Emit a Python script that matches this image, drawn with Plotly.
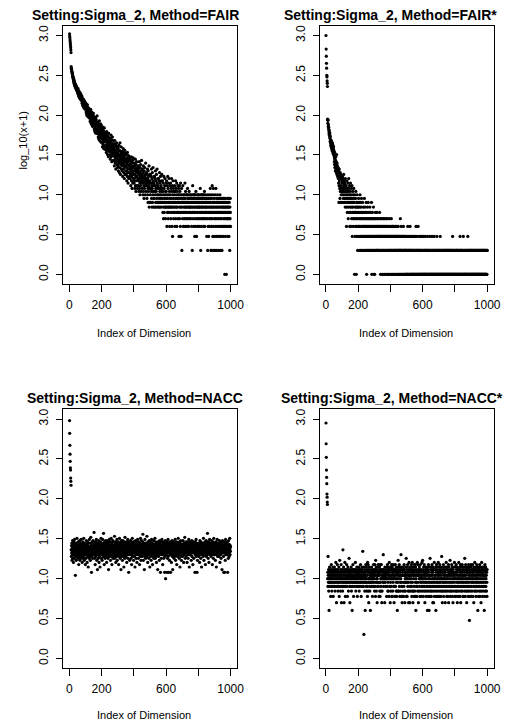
import numpy as np
import plotly.graph_objects as go

# ---------------- data: counts x per dimension index (y = log10(x+1)) -------------
fair_counts = [
 1050, 985, 940, 880, 830, 790, 745, 700, 655, 610, 405, 388, 372, 379, 355, 349, 337, 327, 333, 312, 306, 297, 301, 287, 280,
 271, 262, 280, 249, 255, 266, 241, 236, 250, 228, 233, 245, 219, 226, 238, 214, 221, 230, 207, 216, 224, 203, 211, 198, 206,
 205, 188, 197, 214, 183, 192, 176, 201, 170, 185, 179, 164, 193, 172, 168, 181, 158, 175, 187, 162, 170, 155, 178, 160, 166,
 162, 149, 171, 140, 155, 146, 133, 160, 139, 151, 128, 144, 137, 156, 124, 141, 132, 149, 120, 138, 127, 145, 118, 133, 126,
 131, 118, 140, 109, 124, 103, 127, 115, 98, 121, 112, 134, 101, 117, 95, 110, 123, 104, 97, 114, 108, 92, 119, 101, 106,
 106, 94, 112, 83, 99, 88, 117, 80, 95, 102, 77, 91, 86, 108, 74, 93, 84, 99, 71, 89, 96, 79, 85, 104, 76,
 88, 73, 95, 66, 81, 77, 62, 90, 70, 84, 59, 76, 92, 67, 79, 64, 86, 71, 58, 80, 74, 97, 63, 69, 78,
 71, 58, 80, 52, 66, 75, 49, 63, 69, 55, 84, 61, 47, 72, 57, 65, 51, 77, 60, 45, 68, 54, 74, 59, 63,
 58, 44, 66, 49, 39, 61, 53, 70, 42, 55, 47, 63, 37, 51, 57, 45, 68, 40, 54, 48, 60, 36, 52, 46, 56,
 50, 38, 57, 33, 46, 42, 61, 35, 48, 40, 54, 31, 44, 52, 37, 47, 29, 43, 58, 39, 45, 34, 51, 41, 36,
 44, 31, 50, 27, 39, 46, 34, 55, 29, 41, 36, 48, 25, 38, 43, 32, 52, 30, 40, 35, 47, 26, 37, 42, 33,
 37, 26, 43, 22, 34, 29, 47, 31, 24, 39, 28, 35, 20, 41, 30, 33, 25, 44, 27, 36, 23, 32, 38, 21, 30,
 33, 22, 38, 19, 29, 26, 41, 24, 31, 18, 35, 27, 21, 44, 25, 30, 17, 34, 23, 28, 39, 20, 32, 26, 24,
 29, 19, 34, 22, 27, 16, 31, 24, 37, 20, 26, 18, 33, 23, 28, 15, 30, 21, 35, 25, 17, 27, 22, 32, 19,
 26, 17, 31, 19, 24, 14, 28, 21, 16, 33, 23, 18, 27, 13, 25, 20, 30, 15, 22, 26, 18, 29, 16, 23, 20,
 23, 15, 27, 17, 21, 12, 25, 19, 29, 14, 22, 16, 20, 11, 24, 18, 26, 13, 21, 17, 28, 15, 19, 22, 14,
 21, 13, 24, 15, 19, 11, 22, 17, 27, 12, 20, 16, 10, 23, 18, 14, 25, 12, 19, 16, 21, 11, 18, 15, 20,
 19, 12, 22, 14, 17, 10, 20, 15, 25, 11, 18, 13, 9, 21, 16, 12, 23, 14, 17, 10, 19, 15, 26, 13, 16,
 17, 11, 20, 13, 15, 9, 18, 14, 22, 10, 16, 12, 8, 19, 15, 11, 21, 13, 16, 9, 17, 14, 24, 12, 15,
 15, 10, 18, 12, 14, 8, 17, 13, 20, 9, 15, 11, 7, 19, 13, 10, 16, 12, 22, 6, 14, 11, 17, 7, 13,
 14, 9, 17, 11, 7, 13, 16, 10, 20, 8, 12, 6, 15, 11, 18, 7, 13, 9, 21, 10, 14, 6, 12, 8, 16,
 13, 8, 16, 10, 6, 12, 15, 9, 19, 7, 11, 6, 14, 10, 17, 7, 12, 8, 20, 9, 13, 6, 11, 7, 15,
 12, 7, 15, 9, 6, 11, 14, 8, 18, 7, 10, 6, 13, 9, 16, 7, 11, 8, 12, 6, 14, 9, 17, 7, 10,
 11, 7, 14, 8, 5, 10, 13, 6, 4, 9, 16, 7, 11, 5, 8, 12, 6, 15, 7, 9, 4, 10, 6, 13, 8,
 10, 6, 14, 7, 3, 9, 12, 5, 8, 16, 6, 11, 4, 7, 13, 6, 9, 5, 15, 7, 10, 3, 8, 12, 6,
 9, 6, 13, 7, 4, 11, 5, 8, 15, 6, 10, 3, 7, 12, 2, 9, 6, 14, 5, 8, 11, 4, 7, 10, 6,
 9, 5, 12, 7, 3, 10, 6, 8, 14, 4, 7, 11, 5, 9, 6, 13, 3, 8, 6, 10, 5, 7, 12, 4, 9,
 8, 5, 11, 7, 2, 9, 6, 12, 4, 7, 10, 5, 8, 3, 13, 6, 9, 2, 7, 5, 11, 6, 1, 8, 7,
 9, 4, 7, 12, 5, 8, 3, 8, 6, 7, 9, 5, 9, 4, 7, 6, 13, 3, 8, 5, 10, 6, 7, 4, 9,
 7, 5, 9, 6, 3, 9, 7, 11, 4, 8, 6, 8, 5, 7, 3, 9, 6, 10, 4, 8, 5, 7, 8, 6, 8,
 6, 9, 4, 9, 7, 5, 8, 3, 8, 6, 7, 1, 9, 5, 12, 6, 4, 8, 7, 9, 5, 3, 9, 6, 7,
 8, 5, 2, 9, 6, 4, 9, 7, 3, 10, 5, 8, 6, 2, 7, 8, 4, 6, 9, 5, 3, 8, 7, 9, 6,
 7, 4, 9, 6, 3, 8, 5, 8, 6, 7, 4, 11, 5, 9, 1, 6, 8, 3, 7, 9, 5, 6, 4, 9, 7,
 6, 8, 4, 9, 5, 7, 3, 9, 6, 5, 8, 4, 10, 7, 6, 3, 9, 5, 7, 8, 4, 6, 8, 5, 7,
 6, 2, 8, 5, 9, 4, 7, 1, 6, 8, 3, 8, 5, 2, 7, 6, 9, 4, 5, 7, 3, 8, 6, 11, 5,
 7, 4, 1, 9, 5, 6, 3, 8, 1, 6, 12, 4, 7, 5, 2, 9, 6, 11, 3, 7, 5, 1, 8, 6, 4,
 2, 7, 5, 1, 9, 4, 6, 3, 11, 5, 7, 2, 8, 6, 1, 4, 7, 5, 9, 3, 6, 2, 8, 5, 7,
 4, 1, 6, 8, 3, 5, 7, 2, 9, 4, 6, 1, 5, 8, 3, 7, 2, 6, 4, 8, 5, 1, 7, 3, 6,
 5, 8, 3, 6, 2, 7, 4, 5, 8, 6, 3, 7, 5, 0, 4, 6, 8, 2, 5, 7, 3, 6, 4, 0, 5,
 7, 3, 6, 4, 8, 5, 2, 6, 4, 7, 3, 5, 8, 6, 2, 4, 7, 5, 3, 1, 6, 4, 8, 5, 3,
]

fair_star_counts = [
 999, 675, 549, 446, 388, 315, 301, 268, 250, 228, 88, 85, 78, 86, 71, 74, 66, 69, 62, 58, 64, 55, 60, 52, 57,
 50, 46, 53, 44, 48, 41, 45, 39, 47, 42, 37, 43, 40, 35, 38, 44, 34, 36, 41, 32, 37, 33, 39, 31, 35,
 30, 25, 28, 23, 33, 21, 27, 24, 19, 26, 22, 29, 20, 25, 18, 23, 31, 21, 17, 24, 19, 22, 16, 20, 18,
 21, 15, 18, 13, 19, 7, 12, 20, 14, 17, 11, 16, 8, 18, 10, 15, 12, 17, 7, 9, 16, 11, 13, 15, 10,
 14, 9, 16, 11, 7, 13, 10, 15, 8, 12, 17, 9, 11, 7, 14, 10, 13, 8, 12, 6, 15, 9, 11, 7, 10,
 12, 8, 3, 10, 6, 14, 9, 5, 11, 7, 13, 8, 10, 4, 9, 6, 15, 7, 11, 5, 8, 12, 3, 9, 7,
 10, 6, 13, 5, 8, 3, 9, 7, 11, 4, 6, 12, 8, 2, 7, 5, 10, 6, 3, 9, 4, 7, 11, 5, 8,
 7, 4, 0, 9, 5, 2, 6, 3, 8, 5, 10, 4, 6, 0, 7, 3, 5, 2, 9, 4, 6, 1, 7, 3, 5,
 6, 3, 8, 2, 5, 4, 7, 1, 3, 6, 2, 9, 4, 5, 1, 7, 3, 2, 6, 4, 8, 1, 5, 3, 2,
 4, 2, 7, 1, 5, 3, 2, 6, 4, 1, 3, 5, 2, 8, 1, 4, 3, 6, 2, 5, 1, 3, 4, 2, 7,
 3, 1, 0, 5, 2, 4, 1, 6, 3, 2, 1, 4, 7, 2, 3, 1, 5, 2, 4, 1, 3, 2, 6, 1, 4,
 2, 5, 1, 3, 4, 2, 1, 7, 3, 0, 2, 4, 1, 5, 2, 3, 1, 4, 2, 6, 1, 3, 0, 2, 4,
 1, 3, 0, 4, 2, 1, 5, 3, 2, 1, 4, 2, 1, 3, 1, 5, 2, 1, 3, 4, 2, 1, 1, 3, 2,
 4, 1, 2, 3, 2, 2, 1, 5, 3, 1, 2, 4, 1, 0, 3, 2, 1, 4, 2, 3, 1, 2, 0, 3, 1,
 2, 4, 1, 3, 0, 2, 1, 4, 2, 1, 3, 0, 2, 1, 4, 2, 3, 1, 0, 2, 1, 3, 2, 4, 1,
 2, 1, 3, 0, 2, 1, 4, 2, 0, 1, 3, 2, 1, 0, 2, 3, 1, 2, 4, 1, 0, 2, 1, 3, 2,
 1, 2, 0, 1, 3, 4, 1, 2, 0, 1, 2, 1, 3, 0, 2, 3, 1, 2, 1, 0, 2, 3, 1, 2, 1,
 0, 2, 1, 3, 1, 2, 0, 1, 2, 3, 1, 0, 2, 1, 2, 3, 1, 0, 2, 1, 1, 2, 0, 3, 1,
 2, 1, 0, 1, 2, 1, 0, 2, 1, 1, 0, 4, 1, 2, 0, 1, 3, 2, 1, 0, 1, 2, 1, 0, 2,
 1, 0, 2, 1, 0, 3, 1, 2, 0, 1, 1, 0, 2, 1, 0, 1, 2, 0, 1, 1, 0, 2, 1, 0, 1,
 0, 1, 0, 2, 1, 0, 0, 3, 1, 0, 1, 2, 0, 1, 0, 1, 0, 2, 1, 0, 1, 3, 0, 1, 0,
 1, 0, 2, 0, 1, 1, 0, 0, 2, 1, 0, 1, 0, 0, 1, 2, 0, 1, 0, 1, 0, 0, 2, 1, 0,
 1, 0, 0, 1, 0, 2, 1, 0, 3, 1, 0, 1, 0, 0, 2, 1, 0, 1, 0, 0, 1, 3, 0, 1, 0,
 0, 1, 0, 2, 1, 0, 0, 1, 0, 1, 0, 0, 2, 1, 0, 1, 0, 0, 1, 0, 2, 0, 1, 0, 0,
 1, 0, 0, 1, 0, 2, 0, 1, 0, 0, 1, 0, 1, 0, 0, 2, 1, 0, 0, 1, 0, 1, 0, 0, 1,
 0, 0, 1, 0, 2, 1, 0, 0, 1, 0, 1, 0, 0, 1, 0, 0, 1, 0, 2, 0, 1, 0, 0, 1, 0,
 0, 1, 0, 0, 1, 0, 0, 2, 0, 1, 0, 0, 1, 0, 1, 0, 0, 1, 0, 0, 2, 1, 0, 0, 1,
 0, 0, 1, 0, 1, 0, 0, 1, 0, 0, 1, 0, 2, 0, 0, 1, 0, 1, 0, 0, 1, 0, 0, 1, 0,
 1, 0, 0, 1, 0, 0, 1, 0, 2, 0, 1, 0, 0, 1, 0, 0, 1, 0, 0, 1, 0, 1, 0, 0, 1,
 0, 0, 1, 0, 0, 1, 0, 1, 0, 1, 0, 0, 1, 0, 0, 1, 0, 0, 1, 0, 1, 0, 0, 1, 0,
 1, 0, 0, 1, 0, 0, 1, 0, 1, 0, 0, 1, 0, 0, 1, 0, 1, 0, 0, 1, 0, 0, 1, 0, 1,
 0, 0, 1, 0, 1, 0, 0, 1, 0, 0, 2, 0, 1, 0, 0, 1, 0, 0, 1, 0, 0, 1, 0, 1, 0,
 0, 1, 0, 0, 1, 0, 0, 1, 0, 1, 0, 1, 0, 0, 1, 0, 0, 1, 0, 1, 0, 0, 1, 0, 0,
 1, 0, 0, 1, 0, 0, 2, 1, 0, 0, 1, 0, 0, 1, 0, 1, 0, 0, 1, 0, 1, 0, 0, 1, 0,
 0, 2, 0, 1, 0, 0, 1, 0, 0, 0, 1, 0, 0, 1, 0, 0, 1, 0, 1, 0, 0, 1, 0, 0, 1,
 0, 0, 1, 0, 2, 0, 1, 0, 0, 1, 0, 0, 1, 0, 1, 0, 0, 1, 0, 0, 1, 0, 0, 1, 0,
 1, 0, 0, 1, 0, 0, 1, 0, 1, 0, 0, 1, 0, 0, 1, 0, 0, 1, 0, 1, 0, 0, 1, 0, 0,
 0, 1, 0, 0, 1, 0, 1, 0, 0, 1, 0, 0, 1, 0, 0, 1, 0, 1, 0, 0, 1, 0, 0, 1, 0,
 1, 0, 0, 1, 0, 0, 1, 0, 1, 0, 0, 1, 0, 0, 1, 0, 1, 0, 0, 1, 0, 0, 1, 0, 1,
 0, 0, 1, 0, 1, 0, 0, 1, 0, 0, 1, 0, 1, 0, 0, 1, 0, 0, 1, 0, 1, 0, 0, 1, 1,
]

nacc_counts = [
 954, 660, 467, 362, 294, 244, 228, 181, 165, 147, 22, 18, 25, 20, 27, 16, 23, 19, 21, 29, 17, 24, 20, 26, 15,
 22, 19, 28, 21, 17, 24, 30, 20, 18, 23, 26, 10, 21, 19, 25, 22, 16, 27, 20, 23, 18, 31, 21, 24, 19,
 20, 25, 17, 22, 28, 19, 23, 14, 26, 21, 18, 24, 20, 29, 16, 22, 25, 19, 27, 21, 17, 23, 30, 20, 24,
 18, 22, 26, 15, 21, 24, 19, 28, 23, 17, 20, 25, 22, 31, 18, 21, 16, 27, 24, 20, 19, 23, 26, 14, 22,
 25, 20, 17, 23, 29, 21, 19, 26, 22, 15, 24, 28, 20, 18, 22, 25, 13, 21, 27, 23, 19, 24, 17, 30, 21,
 23, 18, 27, 21, 16, 24, 20, 32, 22, 19, 25, 11, 21, 26, 18, 23, 28, 20, 17, 24, 22, 29, 19, 21, 25,
 20, 24, 37, 19, 22, 27, 17, 23, 25, 14, 21, 28, 20, 18, 26, 22, 30, 19, 23, 16, 25, 21, 27, 12, 22,
 19, 26, 23, 17, 21, 29, 24, 20, 15, 22, 27, 18, 25, 21, 13, 23, 20, 28, 19, 24, 31, 22, 17, 26, 21,
 24, 20, 16, 25, 22, 30, 19, 23, 27, 21, 18, 36, 24, 20, 26, 14, 22, 19, 28, 23, 17, 25, 21, 29, 20,
 22, 27, 18, 24, 21, 15, 26, 20, 23, 29, 19, 25, 22, 17, 28, 21, 24, 12, 20, 26, 23, 18, 30, 21, 25,
 19, 23, 28, 21, 16, 25, 22, 20, 31, 18, 24, 27, 21, 14, 23, 26, 19, 22, 29, 20, 17, 24, 21, 28, 23,
 20, 25, 18, 22, 33, 21, 17, 26, 23, 19, 24, 28, 15, 22, 20, 27, 24, 18, 21, 30, 23, 16, 25, 20, 22,
 26, 19, 23, 28, 21, 14, 25, 22, 18, 24, 31, 20, 27, 23, 17, 21, 26, 19, 24, 12, 22, 29, 20, 25, 18,
 23, 27, 20, 16, 24, 21, 29, 19, 25, 22, 18, 26, 13, 23, 28, 20, 24, 21, 17, 32, 22, 25, 19, 27, 21,
 18, 24, 22, 28, 20, 15, 25, 23, 19, 26, 21, 30, 17, 24, 22, 27, 20, 11, 23, 25, 19, 28, 21, 16, 24,
 22, 26, 19, 23, 29, 21, 17, 25, 20, 24, 14, 27, 22, 19, 31, 23, 18, 26, 21, 25, 20, 28, 16, 23, 21,
 25, 20, 27, 18, 22, 24, 13, 26, 21, 29, 19, 23, 25, 17, 22, 28, 20, 24, 15, 21, 26, 23, 30, 19, 22,
 20, 24, 17, 26, 22, 19, 28, 21, 25, 14, 23, 20, 27, 22, 18, 31, 24, 21, 16, 25, 19, 23, 29, 20, 26,
 23, 18, 25, 21, 28, 35, 20, 24, 16, 22, 27, 19, 23, 26, 12, 21, 25, 18, 30, 22, 20, 24, 17, 27, 21,
 24, 21, 19, 27, 22, 33, 18, 25, 20, 23, 15, 26, 21, 28, 24, 19, 22, 17, 25, 20, 29, 23, 21, 13, 26,
 20, 23, 28, 18, 25, 21, 16, 24, 22, 30, 19, 26, 23, 20, 27, 14, 22, 25, 18, 24, 21, 29, 20, 17, 23,
 26, 19, 22, 25, 20, 31, 23, 17, 24, 21, 28, 18, 22, 26, 15, 23, 20, 27, 24, 19, 21, 25, 12, 22, 28,
 21, 24, 18, 23, 27, 20, 25, 16, 22, 29, 19, 24, 21, 26, 11, 23, 20, 28, 22, 17, 25, 21, 24, 30, 19,
 23, 20, 26, 14, 22, 25, 19, 28, 21, 24, 17, 23, 20, 27, 22, 11, 25, 18, 21, 29, 24, 9, 20, 26, 22,
 19, 25, 22, 28, 11, 23, 20, 26, 17, 24, 21, 30, 18, 22, 25, 11, 23, 27, 20, 24, 16, 21, 28, 19, 23,
 26, 21, 11, 24, 19, 27, 22, 15, 25, 20, 23, 29, 18, 24, 21, 12, 26, 22, 19, 28, 23, 20, 25, 17, 22,
 24, 18, 27, 21, 23, 30, 20, 25, 16, 22, 26, 19, 24, 21, 28, 14, 23, 20, 25, 22, 18, 27, 21, 24, 31,
 20, 23, 26, 19, 22, 17, 25, 28, 21, 24, 13, 22, 27, 20, 23, 29, 18, 25, 21, 16, 24, 22, 26, 19, 23,
 25, 21, 18, 24, 29, 22, 20, 26, 15, 23, 27, 21, 19, 25, 22, 32, 20, 24, 17, 23, 26, 21, 28, 18, 24,
 22, 26, 20, 23, 15, 25, 21, 28, 19, 24, 22, 17, 27, 23, 20, 30, 21, 25, 13, 22, 26, 19, 24, 21, 28,
 19, 24, 22, 27, 21, 16, 25, 23, 20, 29, 18, 22, 26, 21, 24, 14, 23, 28, 20, 25, 22, 17, 27, 21, 23,
 26, 20, 24, 11, 22, 28, 19, 25, 21, 23, 30, 18, 24, 22, 27, 20, 11, 25, 21, 16, 26, 23, 19, 24, 22,
 21, 25, 18, 23, 27, 20, 24, 15, 22, 29, 19, 26, 21, 23, 17, 28, 22, 20, 25, 13, 24, 21, 27, 19, 23,
 24, 20, 26, 22, 18, 25, 31, 21, 23, 16, 27, 20, 24, 22, 19, 28, 21, 25, 14, 23, 26, 20, 22, 29, 18,
 23, 27, 21, 24, 19, 26, 36, 22, 20, 25, 17, 23, 28, 21, 24, 15, 22, 26, 20, 30, 19, 24, 21, 27, 22,
 20, 25, 22, 18, 27, 21, 24, 29, 19, 23, 26, 14, 22, 25, 20, 28, 21, 17, 24, 22, 31, 19, 26, 23, 21,
 25, 19, 23, 27, 21, 16, 24, 22, 28, 20, 25, 13, 23, 21, 26, 19, 30, 22, 24, 18, 27, 21, 23, 20, 25,
 22, 26, 18, 24, 21, 29, 20, 23, 15, 25, 22, 27, 19, 24, 21, 17, 28, 23, 20, 26, 22, 12, 24, 21, 29,
 20, 23, 27, 21, 25, 18, 22, 11, 26, 24, 20, 28, 11, 23, 21, 25, 16, 22, 30, 19, 24, 21, 27, 20, 23,
 26, 21, 19, 24, 22, 28, 11, 23, 20, 25, 17, 22, 29, 21, 24, 18, 26, 20, 23, 31, 22, 19, 25, 21, 24,
]

nacc_star_counts = [
 890, 489, 330, 228, 185, 154, 114, 104, 90, 84, 9, 11, 7, 18, 10, 8, 12, 6, 9, 3, 11, 8, 13, 10, 7,
 9, 12, 8, 10, 5, 11, 9, 7, 14, 10, 8, 6, 12, 9, 11, 7, 10, 13, 8, 9, 5, 11, 10, 7, 12,
 10, 8, 13, 9, 7, 11, 6, 10, 12, 8, 9, 15, 7, 10, 11, 4, 9, 12, 8, 10, 14, 7, 9, 11, 6,
 8, 12, 10, 7, 9, 13, 11, 5, 10, 8, 16, 9, 7, 11, 10, 6, 12, 9, 8, 14, 10, 4, 11, 9, 7,
 12, 9, 10, 6, 8, 22, 11, 7, 9, 13, 10, 8, 4, 12, 9, 11, 7, 15, 10, 8, 5, 9, 12, 10, 7,
 9, 11, 8, 14, 10, 7, 12, 9, 5, 10, 8, 13, 11, 9, 6, 10, 12, 8, 17, 9, 11, 7, 10, 4, 9,
 11, 8, 10, 12, 7, 9, 13, 10, 6, 11, 9, 8, 3, 10, 12, 9, 7, 14, 10, 8, 11, 5, 9, 12, 10,
 8, 10, 12, 9, 7, 11, 10, 15, 8, 9, 6, 12, 10, 8, 11, 9, 13, 7, 10, 5, 9, 11, 8, 12, 10,
 7, 9, 11, 10, 13, 8, 6, 10, 12, 9, 11, 7, 10, 8, 14, 9, 12, 10, 5, 8, 11, 9, 10, 13, 7,
 10, 12, 9, 21, 8, 11, 10, 7, 9, 13, 1, 10, 8, 11, 9, 6, 12, 10, 3, 8, 11, 9, 14, 10, 7,
 9, 13, 6, 8, 12, 7, 10, 5, 15, 11, 8, 14, 6, 9, 12, 4, 8, 11, 9, 13, 7, 10, 6, 11, 8,
 3, 10, 12, 9, 8, 11, 7, 10, 13, 9, 10, 8, 11, 5, 9, 12, 10, 7, 9, 11, 14, 8, 10, 9, 12,
 10, 6, 11, 14, 7, 12, 10, 5, 16, 8, 11, 13, 6, 9, 12, 8, 10, 4, 9, 7, 13, 10, 8, 11, 14,
 11, 7, 10, 5, 12, 8, 10, 13, 6, 11, 5, 14, 8, 12, 9, 6, 7, 11, 14, 9, 10, 4, 12, 6, 10,
 9, 12, 8, 10, 11, 19, 9, 7, 10, 12, 8, 11, 9, 10, 4, 13, 10, 8, 11, 9, 7, 12, 10, 9, 11,
 10, 5, 13, 9, 11, 7, 14, 12, 6, 8, 11, 10, 6, 9, 12, 13, 5, 15, 9, 11, 7, 10, 12, 4, 10,
 8, 13, 6, 9, 12, 7, 10, 14, 5, 11, 9, 13, 5, 12, 6, 10, 8, 11, 14, 9, 7, 12, 4, 10, 9,
 12, 7, 10, 5, 11, 14, 7, 12, 9, 13, 6, 8, 11, 5, 10, 6, 12, 3, 9, 11, 8, 13, 16, 6, 11,
 10, 6, 12, 9, 14, 7, 10, 5, 13, 10, 8, 11, 6, 12, 9, 19, 8, 13, 5, 7, 10, 12, 4, 10, 5,
 11, 6, 10, 13, 8, 12, 5, 10, 7, 14, 10, 6, 12, 8, 4, 11, 9, 6, 10, 13, 8, 11, 17, 5, 10,
 9, 13, 8, 5, 12, 9, 14, 7, 11, 6, 10, 8, 4, 12, 10, 15, 9, 6, 13, 10, 4, 11, 7, 10, 12,
 8, 12, 6, 9, 14, 7, 10, 5, 11, 13, 15, 8, 6, 12, 4, 11, 10, 6, 9, 13, 7, 11, 5, 10, 14,
 12, 6, 10, 14, 8, 13, 5, 3, 9, 11, 7, 8, 12, 5, 10, 7, 15, 10, 6, 14, 8, 10, 11, 4, 12,
 10, 6, 11, 9, 13, 7, 12, 5, 9, 10, 14, 8, 6, 12, 9, 11, 5, 10, 7, 8, 15, 10, 6, 9, 16,
 9, 12, 7, 5, 11, 13, 8, 10, 6, 14, 9, 7, 11, 4, 10, 12, 8, 6, 13, 9, 5, 11, 10, 7, 12,
 8, 11, 6, 13, 3, 10, 7, 12, 5, 9, 14, 8, 11, 6, 3, 10, 13, 7, 9, 5, 17, 10, 8, 12, 6,
 7, 10, 13, 5, 11, 8, 6, 14, 9, 12, 7, 10, 4, 11, 8, 13, 6, 4, 12, 9, 7, 15, 5, 10, 8,
 9, 6, 12, 10, 7, 13, 3, 11, 5, 8, 14, 9, 6, 12, 7, 10, 5, 8, 13, 9, 11, 15, 6, 10, 7,
 11, 8, 5, 12, 9, 14, 7, 10, 6, 13, 8, 11, 5, 9, 12, 7, 10, 18, 6, 9, 13, 4, 11, 8, 6,
 12, 7, 9, 14, 5, 10, 8, 11, 13, 6, 9, 12, 7, 10, 4, 11, 8, 13, 6, 9, 15, 7, 10, 5, 12,
 8, 13, 6, 10, 9, 5, 12, 7, 11, 14, 4, 10, 8, 13, 6, 9, 11, 7, 10, 16, 5, 12, 8, 6, 11,
 10, 7, 12, 9, 14, 6, 11, 8, 5, 13, 10, 7, 4, 12, 9, 11, 6, 10, 8, 13, 7, 15, 9, 5, 11,
 7, 10, 13, 6, 11, 9, 5, 14, 8, 12, 6, 10, 13, 7, 4, 11, 9, 6, 12, 8, 5, 10, 7, 15, 9,
 12, 8, 6, 13, 10, 5, 11, 7, 14, 9, 4, 12, 8, 10, 6, 13, 9, 7, 11, 14, 6, 10, 8, 5, 13,
 9, 12, 7, 10, 5, 8, 13, 11, 6, 10, 17, 7, 9, 12, 5, 8, 14, 10, 6, 13, 9, 11, 4, 7, 12,
 8, 11, 6, 13, 9, 7, 12, 5, 10, 14, 8, 6, 11, 9, 2, 12, 7, 10, 13, 5, 9, 11, 6, 14, 8,
 13, 7, 10, 5, 12, 9, 6, 11, 8, 14, 10, 5, 9, 12, 7, 11, 4, 13, 8, 10, 6, 12, 15, 7, 9,
 10, 6, 12, 8, 11, 5, 13, 9, 7, 14, 10, 6, 8, 12, 9, 11, 3, 7, 13, 10, 5, 12, 8, 11, 6,
 9, 12, 7, 14, 5, 10, 8, 13, 6, 11, 9, 4, 12, 7, 10, 15, 8, 6, 11, 13, 5, 9, 12, 7, 10,
 11, 8, 13, 6, 10, 7, 3, 12, 9, 5, 14, 10, 8, 11, 6, 13, 7, 9, 12, 10, 6, 11, 8, 5, 12,
]

titles = ["Setting:Sigma_2, Method=FAIR", "Setting:Sigma_2, Method=FAIR*",
          "Setting:Sigma_2, Method=NACC", "Setting:Sigma_2, Method=NACC*"]
x_tickvals = [0, 200, 400, 600, 800, 1000]
x_ticktext = ["0", "200", "", "600", "", "1000"]
y_tickvals = [0.0, 0.5, 1.0, 1.5, 2.0, 2.5, 3.0]
y_ticktext = ["0.0", "0.5", "1.0", "1.5", "2.0", "2.5", "3.0"]
x_label = "Index of Dimension"
y_label = "log_10(x+1)"

# ---------------- layout geometry (pixels) ----------------
W, H = 509, 725
FONT = "Liberation Sans, Arial, sans-serif"
boxes = [  # (left, right, top, bottom) in px
    (64.0, 240.3, 25.0, 283.3),
    (324.0, 500.5, 25.0, 283.3),
    (64.0, 240.3, 409.0, 668.0),
    (324.0, 500.5, 409.0, 668.0),
]
title_x = [137, 396, 137, 397]
xlab_x = [146, 412, 146, 412]
title_y = [14, 14, 398, 398]
xlab_y = [332, 332, 715, 715]

all_counts = [fair_counts, fair_star_counts, nacc_counts, nacc_star_counts]

fig = go.Figure()
annotations = []
for k, (counts, box) in enumerate(zip(all_counts, boxes)):
    c = np.asarray(counts, dtype=float)
    idx = np.arange(1, len(c) + 1)
    yv = np.log10(c + 1.0)
    xa = "x" if k == 0 else f"x{k+1}"
    ya = "y" if k == 0 else f"y{k+1}"
    fig.add_trace(go.Scatter(
        x=idx, y=yv, mode="markers", xaxis=xa, yaxis=ya,
        marker=dict(size=3.2, color="black", line=dict(width=0)),
        showlegend=False, hoverinfo="skip"))
    l, r, t, b = box
    axis_common = dict(showgrid=False, zeroline=False, showline=True, mirror=True,
                       linecolor="black", linewidth=1, ticks="outside",
                       tickcolor="black", tickwidth=1,
                       tickfont=dict(family=FONT, size=12, color="black"))
    xkey = "xaxis" if k == 0 else f"xaxis{k+1}"
    ykey = "yaxis" if k == 0 else f"yaxis{k+1}"
    fig.layout[xkey] = dict(axis_common, domain=[l / W, r / W], range=[-38.96, 1039.96],
                            anchor=ya, tickvals=x_tickvals, ticktext=x_ticktext,
                            ticklen=7, ticklabelstandoff=3)
    fig.layout[ykey] = dict(axis_common, domain=[1 - b / H, 1 - t / H], range=[-0.12, 3.12],
                            anchor=xa, tickvals=y_tickvals, ticktext=y_ticktext,
                            tickangle=-90, ticklen=6, ticklabelstandoff=3)
    annotations.append(dict(text="<b>" + titles[k] + "</b>", x=title_x[k] / W, y=1 - title_y[k] / H,
                            xref="paper", yref="paper", showarrow=False,
                            xanchor="center", yanchor="middle",
                            font=dict(family=FONT, size=14, color="black")))
    annotations.append(dict(text=x_label, x=xlab_x[k] / W, y=1 - xlab_y[k] / H,
                            xref="paper", yref="paper", showarrow=False,
                            xanchor="center", yanchor="middle",
                            font=dict(family=FONT, size=11, color="black")))

annotations.append(dict(text=y_label, x=23 / W, y=1 - 140 / H, xref="paper", yref="paper",
                        showarrow=False, textangle=-90, xanchor="center", yanchor="middle",
                        font=dict(family=FONT, size=11, color="black")))

fig.update_layout(width=W, height=H, margin=dict(l=0, r=0, t=0, b=0),
                  paper_bgcolor="white", plot_bgcolor="white",
                  annotations=annotations)
fig.write_html("out.html", config={"displayModeBar": False, "staticPlot": True},
               post_script="document.body.style.margin='0';document.body.style.padding='0';"
                           "document.body.style.overflow='hidden';")
